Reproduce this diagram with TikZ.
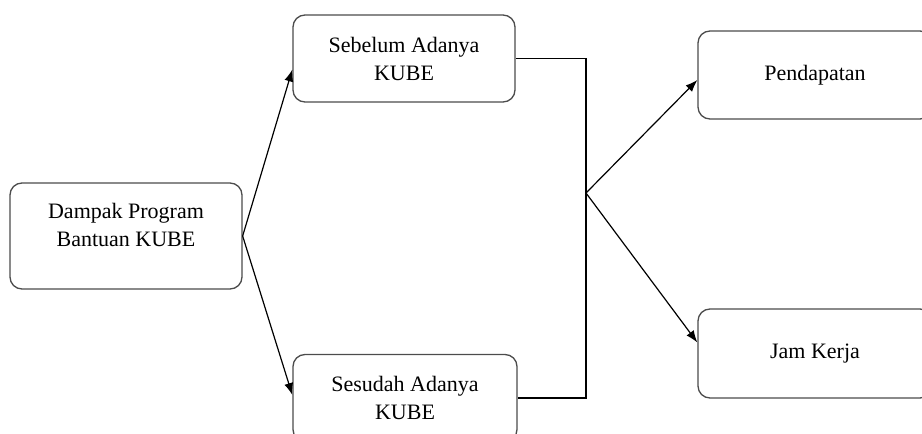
\documentclass[tikz,border=0pt]{standalone}
\usepackage{fontspec}
\setmainfont{Liberation Serif}
\usetikzlibrary{arrows.meta}

\begin{document}
\begin{tikzpicture}[x=1pt,y=-1pt,
	kotak/.style={draw=black!70, line width=1.3pt, rounded corners=12pt, align=center,
		font=\fontsize{22}{28}\selectfont, inner sep=0pt},
	panah/.style={-{Latex[length=12pt,width=9pt]}, line width=1.2pt}]
\useasboundingbox (0,0) rectangle (922,434);
\node[kotak, minimum width=232pt, minimum height=106pt] (dampak) at (126,236) {Dampak Program\\Bantuan KUBE\\[-14pt]\strut};
\node[kotak, minimum width=222pt, minimum height=87pt] (sebelum) at (404,58.5) {Sebelum Adanya\\KUBE};
\node[kotak, minimum width=224pt, minimum height=87pt] (sesudah) at (405,398) {Sesudah Adanya\\KUBE};
\node[kotak, minimum width=234pt, minimum height=88pt] (pendapatan) at (815,75) {Pendapatan};
\node[kotak, minimum width=234pt, minimum height=89pt] (jamkerja) at (815,353.5) {Jam Kerja};
\coordinate (gabung) at (586,193);
%\draw[help lines] (0,0) grid[step=50] (922,434);
\draw[panah] (dampak.east) -- ([yshift=-11pt]sebelum.west);
\draw[panah] (dampak.east) -- ([yshift=3pt]sesudah.west);
\draw[line width=1.2pt] (sebelum.east) -| (gabung) |- (sesudah.east);
\draw[panah] (gabung) -- ([yshift=-5pt]pendapatan.west);
\draw[panah] (gabung) -- ([yshift=11pt]jamkerja.west);
\end{tikzpicture}
\end{document}
